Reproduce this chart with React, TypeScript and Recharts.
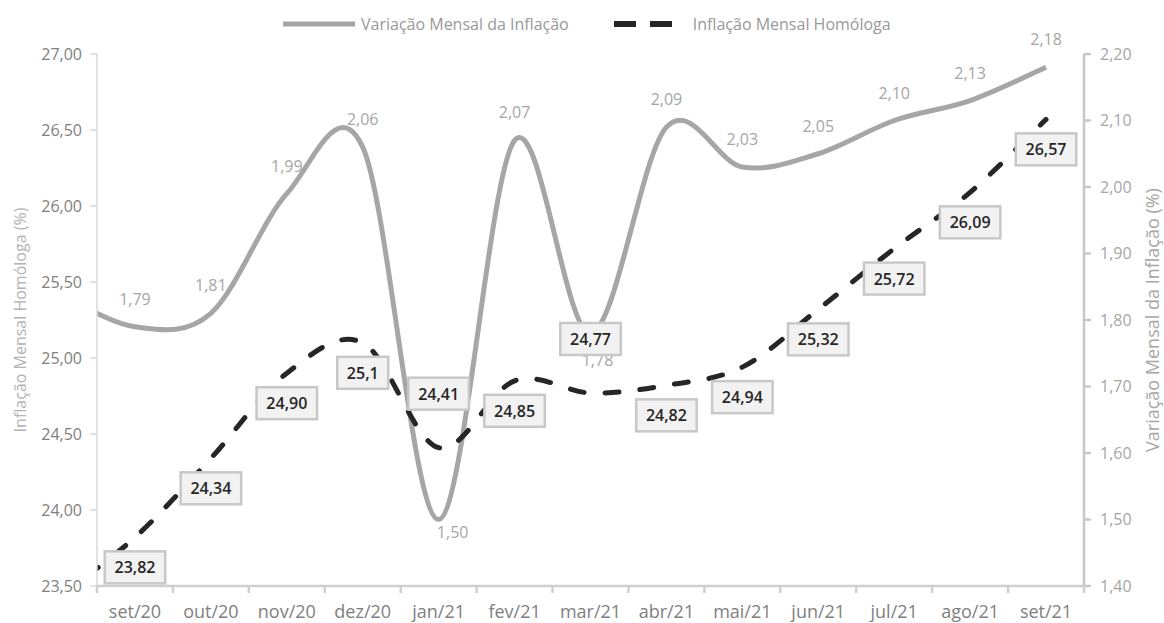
import React from "react";
import { LineChart, Line, XAxis, YAxis, Legend, LabelList } from "recharts";

// ---- data ----
// first entry (ago/20) lies outside the visible x-range; the curves run in from it, as in the source chart
const categories = ["ago/20", "set/20", "out/20", "nov/20", "dez/20", "jan/21", "fev/21", "mar/21", "abr/21", "mai/21", "jun/21", "jul/21", "ago/21", "set/21"];
const variacaoMensal = [1.84, 1.79, 1.81, 1.99, 2.06, 1.5, 2.07, 1.78, 2.09, 2.03, 2.05, 2.1, 2.13, 2.18];
const inflacaoHomologa = [23.43, 23.82, 24.34, 24.9, 25.1, 24.41, 24.85, 24.77, 24.82, 24.94, 25.32, 25.72, 26.09, 26.57];
const homologaLabels = ["23,43", "23,82", "24,34", "24,90", "25,1", "24,41", "24,85", "24,77", "24,82", "24,94", "25,32", "25,72", "26,09", "26,57"];
const leftTicks = [23.5, 24, 24.5, 25, 25.5, 26, 26.5, 27];
const rightTicks = [1.4, 1.5, 1.6, 1.7, 1.8, 1.9, 2.0, 2.1, 2.2];
const visibleCategoryIdx = [1, 2, 3, 4, 5, 6, 7, 8, 9, 10, 11, 12, 13];

// label placement style: labels that sit below their point (pixel nudges dx, dy)
const GRAY_LABEL_BELOW: Record<string, { dx: number; dy: number }> = {
  "jan/21": { dx: 14, dy: 18 },
  "mar/21": { dx: 7, dy: 33 },
};
const BOX_LABEL_ABOVE = new Set(["jan/21", "mar/21"]);

const rows = categories.map((c, i) => ({
  idx: i,
  month: c,
  variacao: variacaoMensal[i],
  homologa: inflacaoHomologa[i],
}));

const boundaryTicks = visibleCategoryIdx.map((i) => i - 0.5).concat([visibleCategoryIdx[visibleCategoryIdx.length - 1] + 0.5]);
const xTicks = [...visibleCategoryIdx, ...boundaryTicks].sort((a, b) => a - b);

const W = 1164;
const H = 623;
const X_TICK_SIZE = 7;
const X_TICK_MARGIN = 12;
const FONT = "'Open Sans', sans-serif";

const fmt2 = (v: number) => v.toFixed(2).replace(".", ",");

// Excel-like smoothed line (Catmull-Rom through every point)
const excelSmooth: any = (context: any) => {
  let pts: number[][] = [];
  return {
    areaStart() {},
    areaEnd() {},
    lineStart() {
      pts = [];
    },
    point(x: number, y: number) {
      pts.push([+x, +y]);
    },
    lineEnd() {
      const n = pts.length;
      if (!n) return;
      context.moveTo(pts[0][0], pts[0][1]);
      for (let i = 0; i < n - 1; i++) {
        const p0 = pts[i - 1] || pts[i];
        const p1 = pts[i];
        const p2 = pts[i + 1];
        const p3 = pts[i + 2] || pts[i + 1];
        context.bezierCurveTo(
          p1[0] + (p2[0] - p0[0]) / 6,
          p1[1] + (p2[1] - p0[1]) / 6,
          p2[0] - (p3[0] - p1[0]) / 6,
          p2[1] - (p3[1] - p1[1]) / 6,
          p2[0],
          p2[1]
        );
      }
    },
  };
};

const XTick = (props: any) => {
  const { x, y, payload } = props;
  const v = payload.value;
  if (Number.isInteger(v)) {
    return (
      <text x={x} y={y} dy={13} textAnchor="middle" fill="#7f7f7f" fontSize={18} fontFamily={FONT}>
        {categories[v]}
      </text>
    );
  }
  const axisY = y - X_TICK_MARGIN - X_TICK_SIZE;
  return <line x1={x} x2={x} y1={axisY} y2={axisY + X_TICK_SIZE} stroke="#cfcfcf" strokeWidth={2.5} />;
};

const GrayLabel = (props: any) => {
  const { x, y, value, index } = props;
  if (index === 0 || x == null) return null;
  const below = GRAY_LABEL_BELOW[categories[index]];
  return (
    <text x={below ? x + below.dx : x} y={below ? y + below.dy : y - 22} textAnchor="middle" fill="#a6a6a6" fontSize={16} fontFamily={FONT}>
      {fmt2(value)}
    </text>
  );
};

const BoxLabel = (props: any) => {
  const { x, y, index } = props;
  if (index === 0 || x == null) return null;
  const label = homologaLabels[index];
  const above = BOX_LABEL_ABOVE.has(categories[index]);
  const w = label.length * 9.5 + 13;
  const h = 32;
  const cy = above ? y - 54 : y + 30;
  return (
    <g>
      <rect x={x - w / 2} y={cy - h / 2} width={w} height={h} fill="#f2f2f2" stroke="#c8c8c8" strokeWidth={2.5} />
      <text x={x} y={cy + 6} textAnchor="middle" fill="#262626" fontSize={16} fontWeight={600} fontFamily={FONT}>
        {label}
      </text>
    </g>
  );
};

const renderLegend = () => (
  <div style={{ width: W, height: 45, position: "relative", fontFamily: FONT }}>
    <div style={{ display: "flex", alignItems: "center", height: 30, paddingLeft: 283, fontSize: 16, color: "#999999" }}>
      <svg width={72} height={10}>
        <line x1={0} x2={72} y1={5} y2={5} stroke="#a6a6a6" strokeWidth={5} />
      </svg>
      <span style={{ marginLeft: 6 }}>Variação Mensal da Inflação</span>
      <svg width={58} height={10} style={{ marginLeft: 45 }}>
        <line x1={0} x2={58} y1={5} y2={5} stroke="#262626" strokeWidth={6} strokeDasharray="22 14" />
      </svg>
      <span style={{ marginLeft: 21 }}>Inflação Mensal Homóloga</span>
    </div>
  </div>
);

export default function App() {
  return (
    <div style={{ position: "absolute", left: 0, top: 0, width: W, height: H, background: "#ffffff", fontFamily: FONT }}>
      <LineChart width={W} height={H} data={rows} margin={{ top: 9, right: 0, bottom: 0, left: 0 }}>
        <Legend verticalAlign="top" align="left" content={renderLegend} wrapperStyle={{ left: 0, top: 9, width: W, height: 45 }} />
        <XAxis
          type="number"
          dataKey="idx"
          domain={[0.5, 13.5]}
          allowDataOverflow
          ticks={xTicks}
          interval={0}
          tick={<XTick />}
          tickLine={false}
          tickSize={X_TICK_SIZE}
          tickMargin={X_TICK_MARGIN}
          height={37}
          axisLine={{ stroke: "#cfcfcf", strokeWidth: 2.5 }}
        />
        <YAxis
          yAxisId="l"
          domain={[23.5, 27]}
          allowDataOverflow
          ticks={leftTicks}
          interval={0}
          width={97}
          tickSize={7}
          tickMargin={8}
          tickFormatter={fmt2}
          tick={{ fill: "#808080", fontSize: 16, fontFamily: FONT }}
          tickLine={{ stroke: "#d9d9d9", strokeWidth: 1.5 }}
          axisLine={{ stroke: "#d9d9d9", strokeWidth: 1.5 }}
          label={{
            value: "Inflação Mensal Homóloga (%)",
            angle: -90,
            position: "insideLeft",
            offset: 20,
            style: { textAnchor: "middle", fill: "#b3b3b3", fontSize: 16, fontFamily: FONT },
          }}
        />
        <YAxis
          yAxisId="r"
          orientation="right"
          domain={[1.4, 2.2]}
          allowDataOverflow
          ticks={rightTicks}
          interval={0}
          width={80}
          tickSize={7}
          tickMargin={9}
          tickFormatter={fmt2}
          tick={{ fill: "#a6a6a6", fontSize: 16, fontFamily: FONT }}
          tickLine={{ stroke: "#c8c8c8", strokeWidth: 2.5 }}
          axisLine={{ stroke: "#c8c8c8", strokeWidth: 2.5 }}
          label={{
            value: "Variação Mensal da Inflação (%)",
            angle: -90,
            position: "insideRight",
            offset: 11,
            style: { textAnchor: "middle", fill: "#a6a6a6", fontSize: 18, fontFamily: FONT },
          }}
        />
        <Line
          yAxisId="r"
          dataKey="variacao"
          name="Variação Mensal da Inflação"
          type={excelSmooth}
          stroke="#a6a6a6"
          strokeWidth={5}
          dot={false}
          activeDot={false}
          isAnimationActive={false}
        >
          <LabelList dataKey="variacao" content={GrayLabel} />
        </Line>
        <Line
          yAxisId="l"
          dataKey="homologa"
          name="Inflação Mensal Homóloga"
          type={excelSmooth}
          stroke="#262626"
          strokeWidth={5}
          strokeDasharray="14 21"
          strokeLinecap="round"
          dot={false}
          activeDot={false}
          isAnimationActive={false}
        >
          <LabelList dataKey="homologa" content={BoxLabel} />
        </Line>
      </LineChart>
    </div>
  );
}
